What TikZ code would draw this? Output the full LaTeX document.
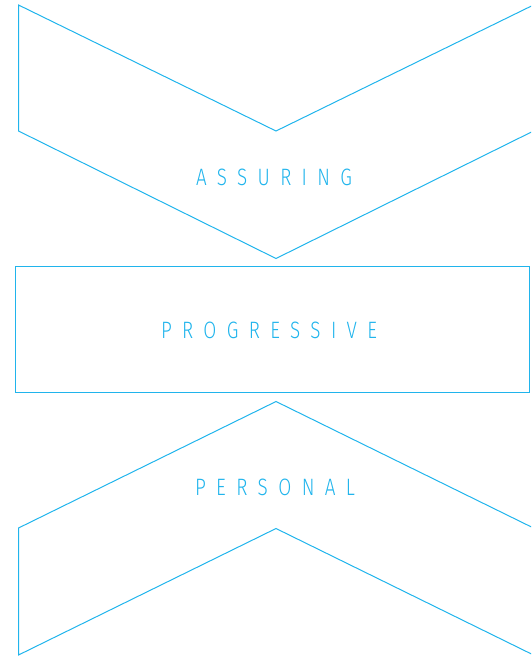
\documentclass[tikz,border=0pt]{standalone}
\usepackage{fontspec}
\usepackage{graphicx}
\setmainfont{Fira Sans}[UprightFont={* Light}]
\definecolor{cyanline}{RGB}{32,180,236}
\newcommand{\spacedword}[2]{\resizebox{#1}{16.5pt}{\fontsize{20pt}{20pt}\selectfont\addfontfeatures{LetterSpace=55}#2}}
\begin{document}
\begin{tikzpicture}[x=1pt,y=-1pt,
  outline/.style={draw=cyanline,line width=1pt,line join=miter},
  label/.style={text=cyanline,inner sep=0pt,anchor=center}]
\useasboundingbox (0,0) rectangle (531,658);
\clip (0,0) rectangle (531,658);
% top chevron
\draw[outline] (18.5,5) -- (276,131) -- (533.5,5) -- (533.5,131) -- (276,258.5) -- (18.5,131) -- cycle;
% rectangle
\draw[outline] (15.5,266.5) rectangle (529,392.5);
% bottom chevron
\draw[outline] (18.5,528) -- (276,401.5) -- (533.5,528) -- (533.5,655) -- (276,528.5) -- (18.5,655) -- cycle;
\node[label] (assuring) at (274,177.5) {\spacedword{156pt}{ASSURING}};
\node[label] (progressive) at (269,330) {\spacedword{216pt}{PROGRESSIVE}};
\node[label] (personal) at (275,487) {\spacedword{160pt}{PERSONAL}};
\end{tikzpicture}
\end{document}
